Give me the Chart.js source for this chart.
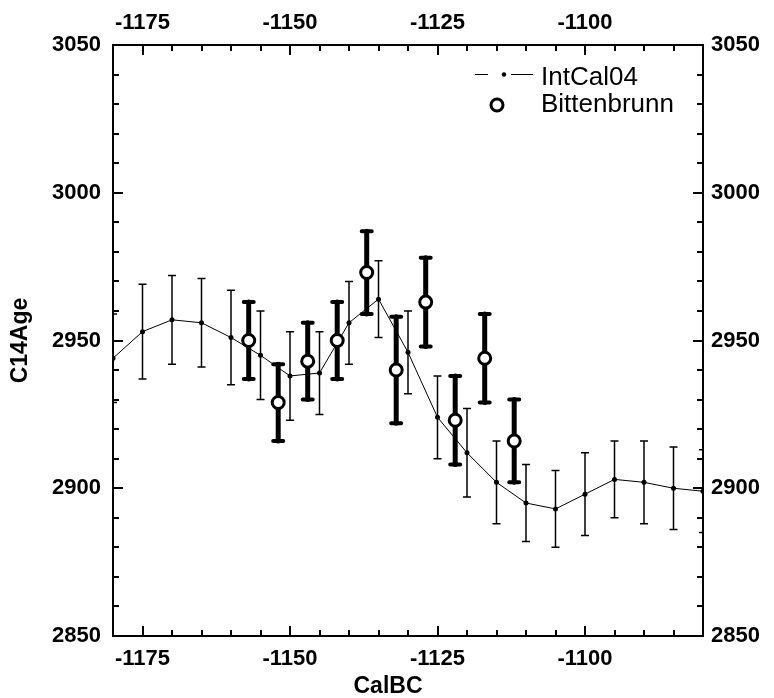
<!DOCTYPE html>
<html>
<head>
<meta charset="utf-8">
<script src="https://cdn.jsdelivr.net/npm/chart.js@4.4.1/dist/chart.umd.min.js"></script>
<style>
  html, body { margin: 0; padding: 0; background: #fff; }
  #chart { display: block; }
</style>
</head>
<body>
<canvas id="chart" width="774" height="698"></canvas>
<script>
// IntCal04 calibration curve: cal. year BC, C14 age, 1 sigma
var intcalYears = [-1180, -1175, -1170, -1165, -1160, -1155, -1150, -1145, -1140, -1135, -1130,
                   -1125, -1120, -1115, -1110, -1105, -1100, -1095, -1090, -1085, -1080];
var intcalAges = [2944, 2953, 2957, 2956, 2951, 2945, 2938, 2939, 2956, 2964, 2946,
                  2924, 2912, 2902, 2895, 2893, 2898, 2903, 2902, 2900, 2899];
var intcalErrors = [15, 16, 15, 15, 16, 15, 15, 14, 14, 13, 14,
                    14, 15, 14, 13, 13, 14, 13, 14, 14, 14];

// Bittenbrunn samples
var bittYears = [-1157, -1152, -1147, -1142, -1137, -1132, -1127, -1122, -1117, -1112];
var bittAges = [2950, 2929, 2943, 2950, 2973, 2940, 2963, 2923, 2944, 2916];
var bittErrors = [13, 13, 13, 13, 14, 18, 15, 15, 15, 14];

var xTicks = [-1175, -1150, -1125, -1100];
var yTicks = [2850, 2900, 2950, 3000, 3050];

var FONT = "'Liberation Sans', Arial, Helvetica, sans-serif";

function toPoints(xs, ys) {
    return xs.map(function (x, i) { return { x: x, y: ys[i] }; });
}

// vertical error bars, drawn just before each dataset
var errorBarPlugin = {
    id: 'errorBars',
    beforeDatasetDraw: function (chart, args) {
        var ds = chart.data.datasets[args.index];
        if (!ds.errors) return;
        var ctx = chart.ctx, xs = chart.scales.x, ys = chart.scales.y, a = chart.chartArea;
        ctx.save();
        ctx.beginPath();
        ctx.rect(a.left, a.top - 10, a.right - a.left, a.bottom - a.top + 20);
        ctx.clip();
        ctx.strokeStyle = '#000';
        ctx.lineCap = ds.barCap;
        ds.data.forEach(function (p, i) {
            var px = xs.getPixelForValue(p.x);
            var top = ys.getPixelForValue(p.y + ds.errors[i]);
            var bot = ys.getPixelForValue(p.y - ds.errors[i]);
            ctx.lineWidth = ds.barWidth;
            ctx.beginPath();
            ctx.moveTo(px, top);
            ctx.lineTo(px, bot);
            ctx.stroke();
            ctx.lineWidth = ds.capWidth;
            ctx.beginPath();
            ctx.moveTo(px - ds.capSize, top); ctx.lineTo(px + ds.capSize, top);
            ctx.moveTo(px - ds.capSize, bot); ctx.lineTo(px + ds.capSize, bot);
            ctx.stroke();
        });
        ctx.restore();
    }
};

// inward ticks, legend and x title
var framePlugin = {
    id: 'frame',
    afterDraw: function (chart) {
        var ctx = chart.ctx, a = chart.chartArea;
        var xs = chart.scales.x, ys = chart.scales.y;
        ctx.save();
        ctx.strokeStyle = '#000';
        ctx.lineWidth = 2;
        ctx.beginPath();
        for (var v = xs.min + 5; v < xs.max; v += 5) {
            var px = Math.round(xs.getPixelForValue(v));
            var len = (v % 25 === 0) ? 10 : 6;
            ctx.moveTo(px, a.bottom); ctx.lineTo(px, a.bottom - len);
            ctx.moveTo(px, a.top); ctx.lineTo(px, a.top + len);
        }
        for (var w = ys.min + 10; w < ys.max; w += 10) {
            var py = Math.round(ys.getPixelForValue(w));
            var l2 = (w % 50 === 0) ? 10 : 6;
            ctx.moveTo(a.left, py); ctx.lineTo(a.left + l2, py);
            ctx.moveTo(a.right, py); ctx.lineTo(a.right - l2, py);
        }
        ctx.stroke();

        // legend
        ctx.lineWidth = 1;
        ctx.beginPath();
        ctx.moveTo(475, 74.5); ctx.lineTo(488, 74.5);
        ctx.moveTo(511, 74.5); ctx.lineTo(533, 74.5);
        ctx.stroke();
        ctx.fillStyle = '#000';
        ctx.beginPath();
        ctx.arc(504, 74.5, 2.2, 0, Math.PI * 2);
        ctx.fill();
        ctx.beginPath();
        ctx.arc(497, 105, 6, 0, Math.PI * 2);
        ctx.fillStyle = '#fff';
        ctx.fill();
        ctx.lineWidth = 3;
        ctx.stroke();

        ctx.fillStyle = '#000';
        ctx.font = '26px ' + FONT;
        ctx.textAlign = 'left';
        ctx.textBaseline = 'middle';
        ctx.fillText('IntCal04', 541, 78);
        ctx.fillText('Bittenbrunn', 541, 105);

        ctx.font = 'bold 23px ' + FONT;
        ctx.textAlign = 'center';
        ctx.fillText('CalBC', 388, 687);
        ctx.restore();
    }
};

function axisFont() {
    return { family: FONT, size: 22, weight: 'bold' };
}

function xAxis(position, pad, size) {
    return {
        type: 'linear', position: position, min: -1180, max: -1080,
        grid: { display: false, drawTicks: false },
        border: { display: true, color: '#000', width: 2 },
        ticks: { color: '#000', font: axisFont(), padding: pad, maxRotation: 0, autoSkip: false,
                 callback: function (v) { return String(v); } },
        afterBuildTicks: function (s) { s.ticks = xTicks.map(function (v) { return { value: v }; }); },
        afterFit: function (s) { s.height = size; }
    };
}

function yAxis(position, pad, size) {
    return {
        type: 'linear', position: position, min: 2850, max: 3050,
        grid: { display: false, drawTicks: false },
        border: { display: true, color: '#000', width: 2 },
        ticks: { color: '#000', font: axisFont(), padding: pad, autoSkip: false,
                 callback: function (v) { return String(v); } },
        afterBuildTicks: function (s) { s.ticks = yTicks.map(function (v) { return { value: v }; }); },
        afterFit: function (s) { s.width = size; }
    };
}

var yLeft = yAxis('left', 12, 113);
yLeft.title = { display: true, text: 'C14Age', color: '#000',
                font: { family: FONT, size: 23, weight: 'bold', lineHeight: 1 }, padding: { top: 9, bottom: 0 } };

new Chart(document.getElementById('chart').getContext('2d'), {
    type: 'scatter',
    data: {
        datasets: [
            {
                label: 'Bittenbrunn',
                data: toPoints(bittYears, bittAges),
                showLine: false,
                pointRadius: 6,
                pointBorderWidth: 3,
                pointBackgroundColor: '#fff',
                pointBorderColor: '#000',
                errors: bittErrors, barWidth: 5, capWidth: 4, capSize: 5, barCap: 'round'
            },
            {
                label: 'IntCal04',
                data: toPoints(intcalYears, intcalAges),
                showLine: true,
                borderColor: '#000',
                borderWidth: 1,
                tension: 0,
                pointRadius: 2.5,
                pointBorderWidth: 0,
                pointBackgroundColor: '#000',
                errors: intcalErrors, barWidth: 1.5, capWidth: 1.5, capSize: 4, barCap: 'butt'
            }
        ]
    },
    options: {
        responsive: false,
        animation: false,
        layout: { padding: 0 },
        plugins: { legend: { display: false }, tooltip: { enabled: false } },
        scales: {
            x: xAxis('bottom', 10, 62),
            x2: xAxis('top', 9, 45),
            y: yLeft,
            y2: yAxis('right', 8, 71)
        }
    },
    plugins: [errorBarPlugin, framePlugin]
});
</script>
</body>
</html>
